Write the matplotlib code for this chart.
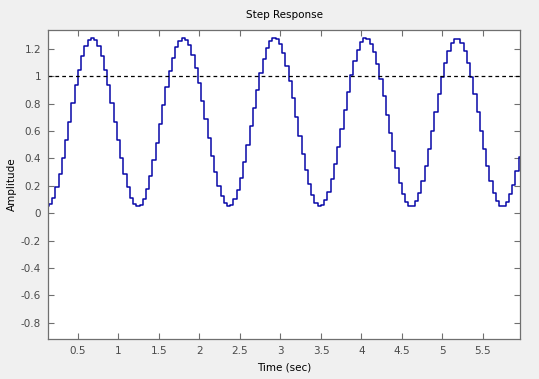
import numpy as np
import matplotlib
matplotlib.use("Agg")
import matplotlib.pyplot as plt

# ===============================
# Data (one value per sample)
# ===============================
t_start = 0.10      # first sample shown (sec)
Ts = 0.04           # sample time (sec)

amplitude = [
    0.050, 0.067, 0.114, 0.188, 0.286, 0.403, 0.533, 0.669, 0.805, 0.935,
    1.050, 1.147, 1.220, 1.265, 1.280, 1.265, 1.220, 1.147, 1.050, 0.935,
    0.805, 0.669, 0.533, 0.403, 0.286, 0.188, 0.114, 0.067, 0.050, 0.063,
    0.107, 0.178, 0.273, 0.388, 0.516, 0.652, 0.789, 0.919, 1.037, 1.136,
    1.212, 1.261, 1.280, 1.268, 1.227, 1.157, 1.064, 0.950, 0.822, 0.686,
    0.550, 0.419, 0.300, 0.199, 0.122, 0.072, 0.051, 0.060, 0.100, 0.167,
    0.260, 0.372, 0.500, 0.635, 0.772, 0.903, 1.023, 1.125, 1.204, 1.256,
    1.279, 1.271, 1.234, 1.168, 1.077, 0.965, 0.839, 0.704, 0.567, 0.435,
    0.314, 0.211, 0.130, 0.076, 0.051, 0.057, 0.093, 0.158, 0.247, 0.358,
    0.483, 0.618, 0.755, 0.887, 1.009, 1.113, 1.195, 1.251, 1.278, 1.274,
    1.240, 1.177, 1.089, 0.980, 0.855, 0.721, 0.584, 0.451, 0.328, 0.223,
    0.139, 0.081, 0.053, 0.055, 0.087, 0.148, 0.235, 0.343, 0.467, 0.601,
    0.738, 0.871, 0.995, 1.101, 1.187, 1.246, 1.276, 1.276, 1.246, 1.187,
    1.101, 0.995, 0.871, 0.738, 0.601, 0.467, 0.343, 0.235, 0.148, 0.087,
    0.055, 0.053, 0.081, 0.139, 0.205, 0.305, 0.410, 0.530,
]
final_value = 1.0

x_ticks = [0.5, 1, 1.5, 2, 2.5, 3, 3.5, 4, 4.5, 5, 5.5]
x_tick_labels = ["0.5", "1", "1.5", "2", "2.5", "3", "3.5", "4", "4.5", "5", "5.5"]
y_ticks = [-0.8, -0.6, -0.4, -0.2, 0, 0.2, 0.4, 0.6, 0.8, 1, 1.2]
y_tick_labels = ["-0.8", "-0.6", "-0.4", "-0.2", "0", "0.2", "0.4", "0.6", "0.8", "1", "1.2"]

# ===============================
# Figure
# ===============================
bg = "#f0f0f0"
axis_col = "#6f6f6f"
tick_text = "#4a4a4a"

fig = plt.figure(figsize=(5.39, 3.79), dpi=100, facecolor=bg)
ax = fig.add_axes([48 / 539, 40 / 379, 472 / 539, 309 / 379])
ax.set_facecolor("white")

y = np.array(amplitude)
t = t_start + Ts * np.arange(len(y))
t_plot = np.append(t, t[-1] + Ts)
y_plot = np.append(y, y[-1])
ax.step(t_plot, y_plot, where="post", color="#0808a8", lw=1.1)

ax.axhline(final_value, color="black", lw=0.9, ls=(0, (3, 2.5)))

ax.set_xlim(0.13, 5.957)
ax.set_ylim(-0.92, 1.339)

ax.set_xticks(x_ticks)
ax.set_xticklabels(x_tick_labels)
ax.set_yticks(y_ticks)
ax.set_yticklabels(y_tick_labels)

ax.tick_params(direction="in", length=4, width=0.8, colors=axis_col,
               labelcolor=tick_text, labelsize=7.5, top=True, right=True,
               pad=5)
for sp in ax.spines.values():
    sp.set_color(axis_col)
    sp.set_linewidth(0.9)

ax.set_title("Step Response", fontsize=7.5, color="black", pad=9)
ax.set_xlabel("Time (sec)", fontsize=7.5, color="black", labelpad=5)
ax.set_ylabel("Amplitude", fontsize=7.5, color="black", labelpad=3)

fig.savefig("out.png", dpi=100, facecolor=bg)
